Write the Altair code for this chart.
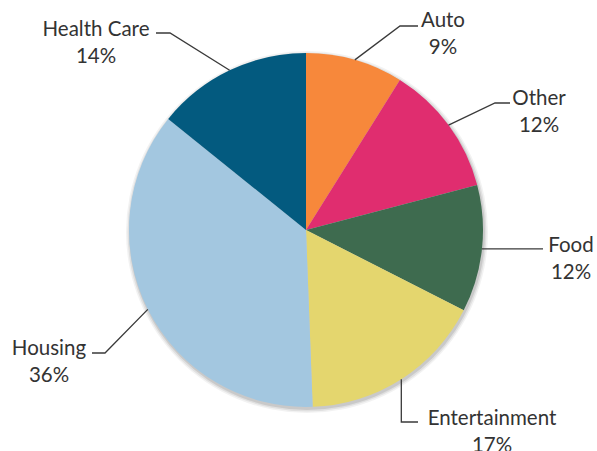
import math
import altair as alt
import pandas as pd

# ---- data ----
categories = ["Auto", "Other", "Food", "Entertainment", "Housing", "Health Care"]
shares = [8.9, 12.0, 11.6, 16.9, 36.4, 14.2]
pct_labels = ["9%", "12%", "12%", "17%", "36%", "14%"]
colors = ["#F7883B", "#E02D6F", "#3E6B4F", "#E4D66E", "#A3C7E0", "#035A7F"]

# ---- layout (pixels relative to the pie centre, y pointing up) ----
label_x = [137, 233, 265, 186, -257, -210]
label_y = [203, 125, -22, -195, -125, 194]
elbow_x = [94, 189, None, None, -201, -136]
elbow_y = [204, 127, None, -192, -123, 197]
end_x = [112, 204, 237, 112, -214, -150]

R = 177
W, H = 597, 451
CX, CY = 306, 230
xs = alt.Scale(domain=[-CX, W - CX], nice=False, zero=False)
ys = alt.Scale(domain=[-(H - CY), CY], nice=False, zero=False)

pie_df = pd.DataFrame({"category": categories, "share": shares, "order": list(range(len(categories)))})

# leader lines: from slice mid-angle on the rim -> elbow -> end next to label
total = sum(shares)
rows = []
cum = 0.0
for i, c in enumerate(categories):
    a = 2 * math.pi * (cum + shares[i] / 2) / total
    cum += shares[i]
    ex, ey = R * math.sin(a), R * math.cos(a)
    bx = ex if elbow_x[i] is None else elbow_x[i]
    by = ey if elbow_y[i] is None else elbow_y[i]
    rows += [
        {"category": c, "pt": 0, "x": ex, "y": ey},
        {"category": c, "pt": 1, "x": bx, "y": by},
        {"category": c, "pt": 2, "x": end_x[i], "y": by},
    ]
line_df = pd.DataFrame(rows)

label_df = pd.DataFrame({
    "category": categories,
    "x": label_x,
    "y": label_y,
    "txt": [f"{c}\n{p}" for c, p in zip(categories, pct_labels)],
})

shadow_df = pd.DataFrame({"k": [0]})


def center(dx=0, dy=0):
    return dict(
        x=alt.XDatum(dx, type="quantitative", scale=xs, axis=None),
        y=alt.YDatum(dy, type="quantitative", scale=ys, axis=None),
    )


shadows = [
    alt.Chart(shadow_df).mark_arc(theta=0, theta2=2 * math.pi, outerRadius=r, color="#000000", opacity=o)
    .encode(**center(1, -2))
    for r, o in [(181, 0.05), (179.5, 0.07), (178, 0.10)]
]

pie = alt.Chart(pie_df).mark_arc(outerRadius=R).encode(
    theta=alt.Theta("share:Q", stack=True),
    order=alt.Order("order:Q"),
    color=alt.Color("category:N", scale=alt.Scale(domain=categories, range=colors), legend=None),
    **center(0, 0),
)

lines = alt.Chart(line_df).mark_line(color="#3A3A3A", strokeWidth=1.3).encode(
    x=alt.X("x:Q", scale=xs, axis=None),
    y=alt.Y("y:Q", scale=ys, axis=None),
    detail="category:N",
    order="pt:Q",
)

labels = alt.Chart(label_df).mark_text(
    align="center", baseline="alphabetic", lineBreak="\n", lineHeight=27,
    fontSize=20.5, font="Lato", color="#333333",
).encode(
    x=alt.X("x:Q", scale=xs, axis=None),
    y=alt.Y("y:Q", scale=ys, axis=None),
    text="txt:N",
)

chart = alt.layer(*shadows, pie, lines, labels).properties(
    width=W, height=H, padding=0, autosize=alt.AutoSizeParams(type="none"),
    background="#FFFFFF",
).configure_view(stroke=None)

chart.save("out.html", embed_options={"renderer": "svg", "actions": False})
